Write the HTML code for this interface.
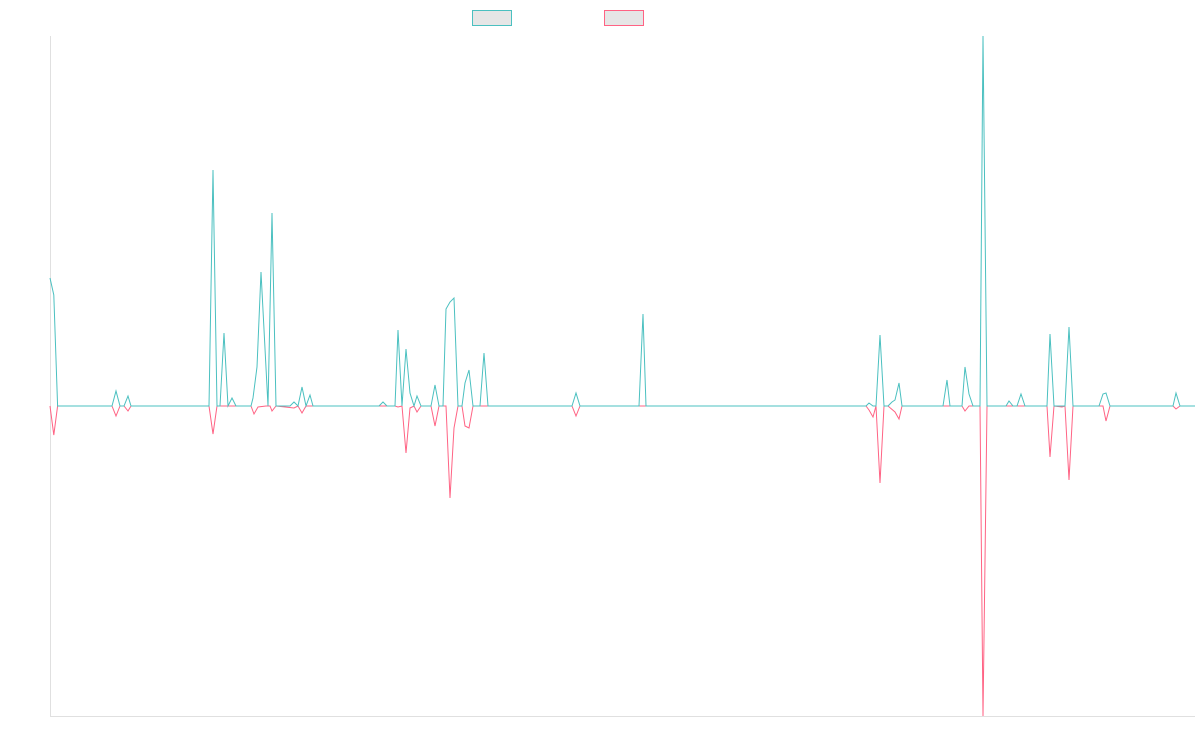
<!DOCTYPE html>
<html><head><meta charset="utf-8"><style>html,body{margin:0;padding:0;background:#fff;width:1200px;height:750px;overflow:hidden}</style></head>
<body>
<svg width="1200" height="750" xmlns="http://www.w3.org/2000/svg">
<line x1="50.5" y1="36" x2="50.5" y2="716" stroke="#e0e0e0" stroke-width="1"/>
<line x1="50" y1="716.5" x2="1195" y2="716.5" stroke="#e0e0e0" stroke-width="1"/>
<rect x="472.5" y="10.5" width="39" height="15" fill="#e6e6e6" stroke="#4bc0c0" stroke-width="1"/>
<rect x="604.5" y="10.5" width="39" height="15" fill="#e6e6e6" stroke="#ff6384" stroke-width="1"/>
<polyline fill="none" stroke="#ff6384" stroke-width="1" points="50,406 53.8,435 57.6,406 112,406 116,416 120,406 124,406 128,411 131,406 209,406 213,434 217,406 251,406 254,414 258,407 266,406 270,406 272,411 276,406 294,408 298,406 302,413 306,406 395,406 398,407 402,406 406,453 410,408 414,406 417,412 421,406 431,406 435,426 439,406 446,406 450,498 454,428 458,406 462,406 465,426 469,428 473,406 572,406 576,416 580,406 866,406 869,410 873,417 876,406 880,483 884,406 888,406 895,412 899,419 902,406 962,406 965,411 969,406 980,406 983,716 987,406 1047,406 1050,457 1054,406 1062,407 1065,406 1069,480 1073,406 1103,406 1106,421 1110,406 1173,406 1176,409 1180,406 1195,406"/>
<polyline fill="none" stroke="#4bc0c0" stroke-width="1" points="50,278 53.8,295 57.6,406 112,406 116,391 120,406 124,406 128,396 131,406 209,406 213,170 217,406 220,406 224,333 228,406 232,398 236,406 251,406 253,398 257,367 261,272 268,406 272,213 276,406 290,406 294,402 298,406 302,387 306,406 310,395 313,406 379,406 383,402 387,406 395,406 398,330 402,406 406,349 410,393 414,406 417,396 421,406 431,406 435,385 439,406 443,406 446,309 450,302 454,298 458,406 462,406 465,383 469,370 473,406 480,406 484,353 488,406 572,406 576,393 580,406 639,406 643,314 646,406 866,406 869,403 873,406 876,406 880,335 884,406 888,406 892,402 895,400 899,383 902,406 943,406 947,380 950,406 962,406 965,367 969,394 973,406 980,406 983,36 987,406 1006,406 1009,401 1013,406 1017,406 1021,394 1025,406 1047,406 1050,334 1054,406 1065,406 1069,327 1073,406 1099,406 1103,394 1106,393 1110,406 1173,406 1176,393 1180,406 1195,406"/>
</svg>
</body></html>
